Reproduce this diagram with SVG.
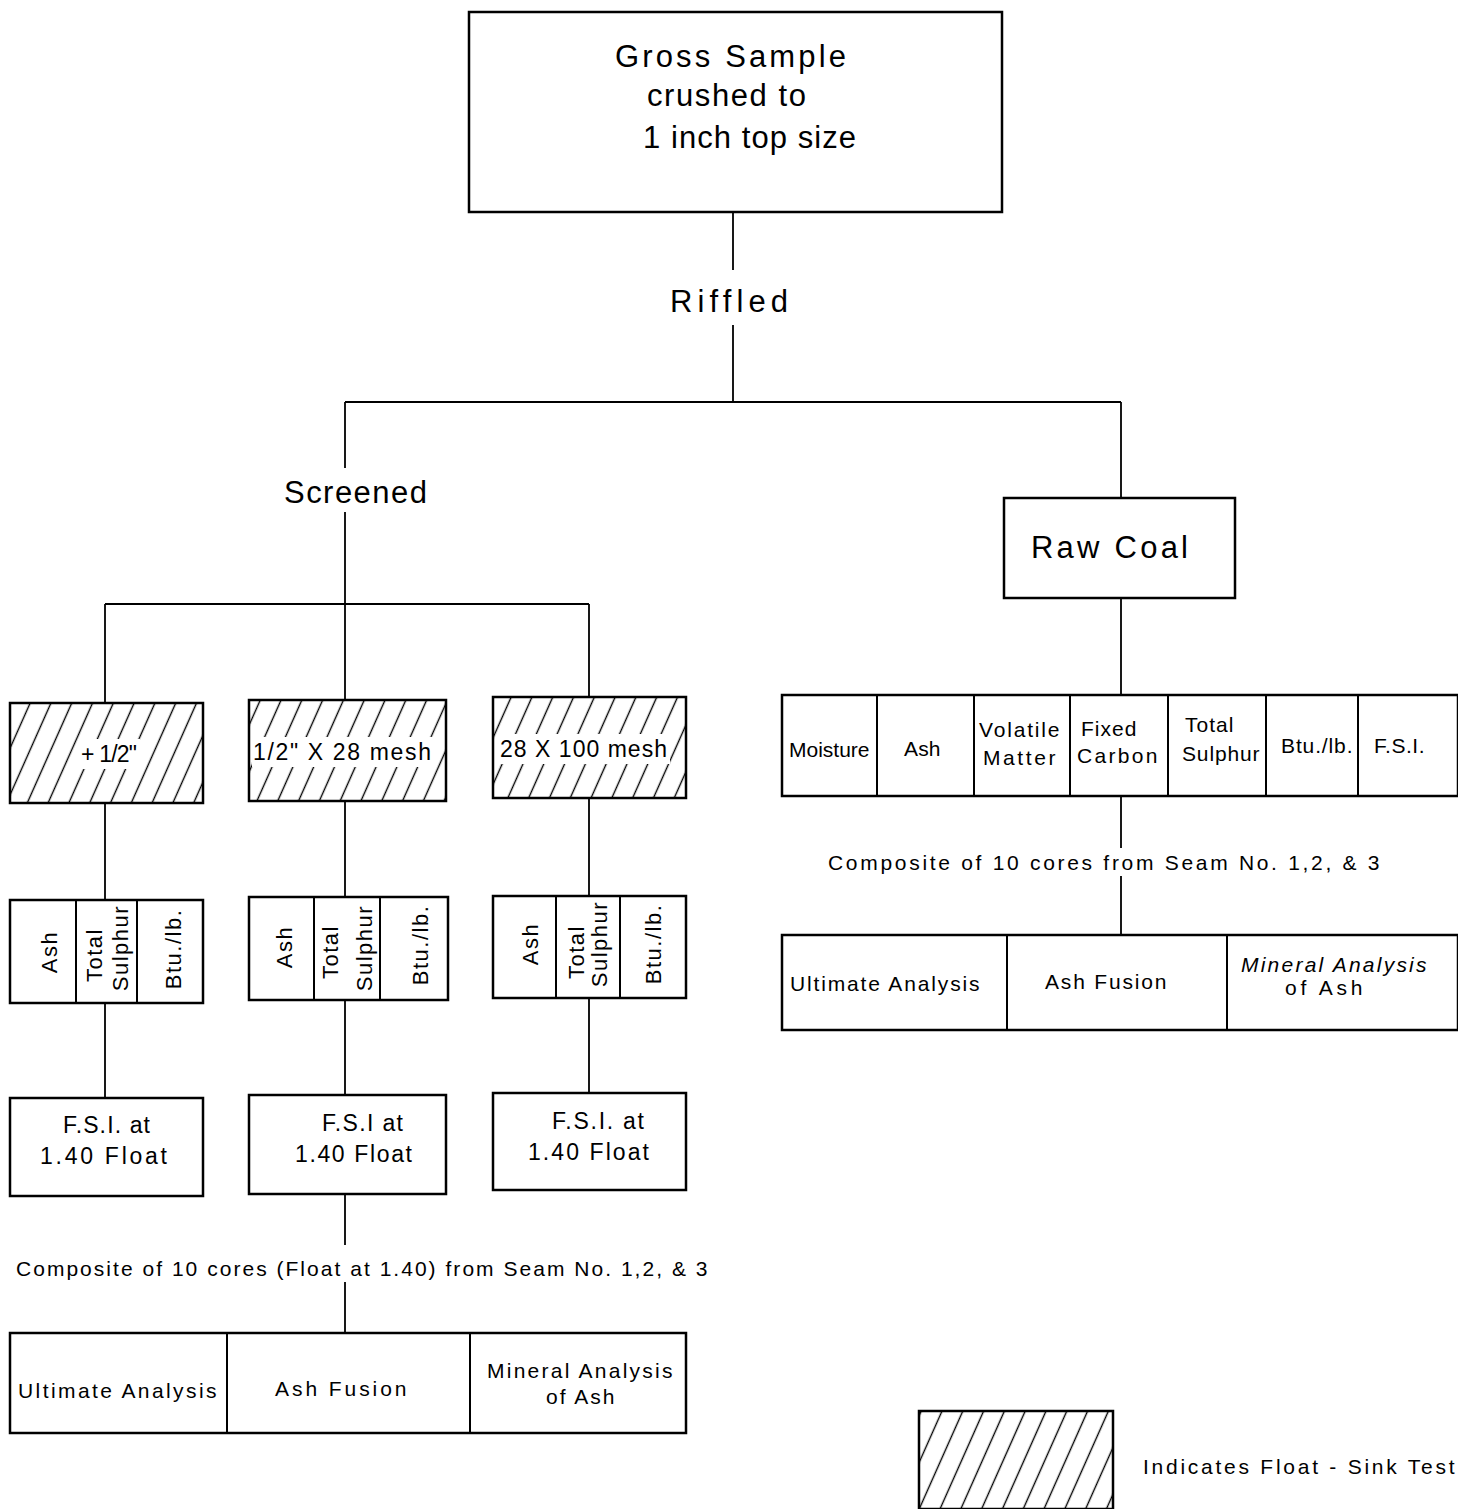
<svg xmlns="http://www.w3.org/2000/svg" width="1458" height="1509" viewBox="0 0 1458 1509">
<style>
  .box{fill:#fff;stroke:#000;stroke-width:2.5}
  .hbox{fill:url(#hatch);stroke:#000;stroke-width:2.5}
  .div{stroke:#000;stroke-width:2}
  .ln{stroke:#000;stroke-width:1.8;fill:none}
  text{font-family:"Liberation Sans","DejaVu Sans",sans-serif;fill:#000}
  .big{font-size:31px;letter-spacing:2px}
  .med{font-size:23px;letter-spacing:1px}
  .sm{font-size:21px;letter-spacing:0.5px}
  .vt{font-size:22px;letter-spacing:1.5px;text-anchor:middle}
  .bg{fill:#fff}
</style>
<defs>
  <pattern id="hatch" patternUnits="userSpaceOnUse" width="19" height="19" patternTransform="rotate(24)">
    <rect width="19" height="19" fill="#fff"/>
    <line x1="9.5" y1="-2" x2="9.5" y2="21" stroke="#000" stroke-width="1.4"/>
  </pattern>
</defs>

<g id="connectors">
  <path class="ln" d="M733,212 V270 M733,325 V402 M345,402 H1121 M345,402 V468 M345,512 V604 M1121,402 V498"/>
  <path class="ln" d="M105,604 H589 M105,604 V703 M345,604 V700 M589,604 V697"/>
  <path class="ln" d="M105,803 V900 M345,801 V897 M589,798 V896"/>
  <path class="ln" d="M105,1003 V1098 M345,1000 V1095 M589,998 V1093"/>
  <path class="ln" d="M345,1194 V1245 M345,1282 V1333"/>
  <path class="ln" d="M1121,598 V695 M1121,796 V848 M1121,876 V935"/>
</g>

<g id="gross-sample">
  <rect class="box" x="469" y="12" width="533" height="200"/>
  <text class="big" x="615" y="67" textLength="233">Gross Sample</text>
  <text class="big" x="647" y="106" textLength="161">crushed to</text>
  <text class="big" x="643" y="148" textLength="215">1 inch top size</text>
</g>

<g id="riffled"><text class="big" x="670" y="312" textLength="120">Riffled</text></g>
<g id="screened"><text class="big" x="284" y="503" textLength="145">Screened</text></g>

<g id="raw-coal">
  <rect class="box" x="1004" y="498" width="231" height="100"/>
  <text class="big" x="1031" y="558" textLength="159">Raw Coal</text>
</g>

<g id="plus-half">
  <rect class="hbox" x="10" y="703" width="193" height="100"/>
  <rect class="bg" x="78" y="739" width="62" height="30"/>
  <text class="med" x="81" y="762" textLength="57">+ 1/2"</text>
</g>
<g id="half-28">
  <rect class="hbox" x="249" y="700" width="197" height="101"/>
  <rect class="bg" x="252" y="737" width="182" height="30"/>
  <text class="med" x="253" y="760" textLength="179">1/2" X 28 mesh</text>
</g>
<g id="m28-100">
  <rect class="hbox" x="493" y="697" width="193" height="101"/>
  <rect class="bg" x="498" y="734" width="172" height="30"/>
  <text class="med" x="500" y="757" textLength="168">28 X 100 mesh</text>
</g>

<g id="analysis-1">
  <rect class="box" x="10" y="900" width="193" height="103"/>
  <line class="div" x1="76" y1="900" x2="76" y2="1003"/>
  <line class="div" x1="137" y1="900" x2="137" y2="1003"/>
  <text class="vt" transform="translate(57,952) rotate(-90)">Ash</text>
  <text class="vt" transform="translate(102,955) rotate(-90)">Total</text>
  <text class="vt" transform="translate(128,948) rotate(-90)">Sulphur</text>
  <text class="vt" transform="translate(181,949) rotate(-90)">Btu./lb.</text>
</g>
<g id="analysis-2">
  <rect class="box" x="249" y="897" width="199" height="103"/>
  <line class="div" x1="314" y1="897" x2="314" y2="1000"/>
  <line class="div" x1="380" y1="897" x2="380" y2="1000"/>
  <text class="vt" transform="translate(292,947) rotate(-90)">Ash</text>
  <text class="vt" transform="translate(338,952) rotate(-90)">Total</text>
  <text class="vt" transform="translate(372,948) rotate(-90)">Sulphur</text>
  <text class="vt" transform="translate(428,945) rotate(-90)">Btu./lb.</text>
</g>
<g id="analysis-3">
  <rect class="box" x="493" y="896" width="193" height="102"/>
  <line class="div" x1="556" y1="896" x2="556" y2="998"/>
  <line class="div" x1="620" y1="896" x2="620" y2="998"/>
  <text class="vt" transform="translate(538,944) rotate(-90)">Ash</text>
  <text class="vt" transform="translate(584,952) rotate(-90)">Total</text>
  <text class="vt" transform="translate(607,944) rotate(-90)">Sulphur</text>
  <text class="vt" transform="translate(661,944) rotate(-90)">Btu./lb.</text>
</g>

<g id="fsi-1">
  <rect class="box" x="10" y="1098" width="193" height="98"/>
  <text class="med" x="63" y="1133" textLength="88">F.S.I. at</text>
  <text class="med" x="40" y="1164" textLength="128">1.40 Float</text>
</g>
<g id="fsi-2">
  <rect class="box" x="249" y="1095" width="197" height="99"/>
  <text class="med" x="322" y="1131" textLength="82">F.S.I at</text>
  <text class="med" x="295" y="1162" textLength="118">1.40 Float</text>
</g>
<g id="fsi-3">
  <rect class="box" x="493" y="1093" width="193" height="97"/>
  <text class="med" x="552" y="1129" textLength="93">F.S.I. at</text>
  <text class="med" x="528" y="1160" textLength="122">1.40 Float</text>
</g>

<g id="composite-left"><text class="sm" x="16" y="1276" textLength="692">Composite  of 10 cores (Float at 1.40) from Seam No. 1,2, &amp; 3</text></g>

<g id="bottom-left">
  <rect class="box" x="10" y="1333" width="676" height="100"/>
  <line class="div" x1="227" y1="1333" x2="227" y2="1433"/>
  <line class="div" x1="470" y1="1333" x2="470" y2="1433"/>
  <text class="sm" x="18" y="1398" textLength="199">Ultimate Analysis</text>
  <text class="sm" x="275" y="1396" textLength="132">Ash  Fusion</text>
  <text class="sm" x="487" y="1378" textLength="186">Mineral Analysis</text>
  <text class="sm" x="546" y="1404" textLength="69">of Ash</text>
</g>

<g id="raw-analysis">
  <rect class="box" x="782" y="695" width="676" height="101"/>
  <line class="div" x1="877" y1="695" x2="877" y2="796"/>
  <line class="div" x1="974" y1="695" x2="974" y2="796"/>
  <line class="div" x1="1070" y1="695" x2="1070" y2="796"/>
  <line class="div" x1="1168" y1="695" x2="1168" y2="796"/>
  <line class="div" x1="1266" y1="695" x2="1266" y2="796"/>
  <line class="div" x1="1358" y1="695" x2="1358" y2="796"/>
  <text class="sm" x="789" y="757" textLength="81">Moisture</text>
  <text class="sm" x="904" y="756" textLength="37">Ash</text>
  <text class="sm" x="979" y="737" textLength="81">Volatile</text>
  <text class="sm" x="983" y="765" textLength="73">Matter</text>
  <text class="sm" x="1081" y="736" textLength="56">Fixed</text>
  <text class="sm" x="1077" y="763" textLength="81">Carbon</text>
  <text class="sm" x="1185" y="732" textLength="49">Total</text>
  <text class="sm" x="1182" y="761" textLength="78">Sulphur</text>
  <text class="sm" x="1281" y="753" textLength="72">Btu./lb.</text>
  <text class="sm" x="1374" y="753" textLength="51">F.S.I.</text>
</g>

<g id="composite-right"><text class="sm" x="828" y="870" textLength="552">Composite  of  10 cores  from  Seam  No. 1,2, &amp; 3</text></g>

<g id="bottom-right">
  <rect class="box" x="782" y="935" width="676" height="95"/>
  <line class="div" x1="1007" y1="935" x2="1007" y2="1030"/>
  <line class="div" x1="1227" y1="935" x2="1227" y2="1030"/>
  <text class="sm" x="790" y="991" textLength="190">Ultimate Analysis</text>
  <text class="sm" x="1045" y="989" textLength="122">Ash  Fusion</text>
  <text class="sm" x="1241" y="972" textLength="186" font-style="italic">Mineral Analysis</text>
  <text class="sm" x="1285" y="995" textLength="78">of  Ash</text>
</g>

<g id="legend">
  <rect class="hbox" x="919" y="1411" width="194" height="98"/>
  <text class="sm" x="1143" y="1474" textLength="312">Indicates  Float - Sink Test</text>
</g>
</svg>
